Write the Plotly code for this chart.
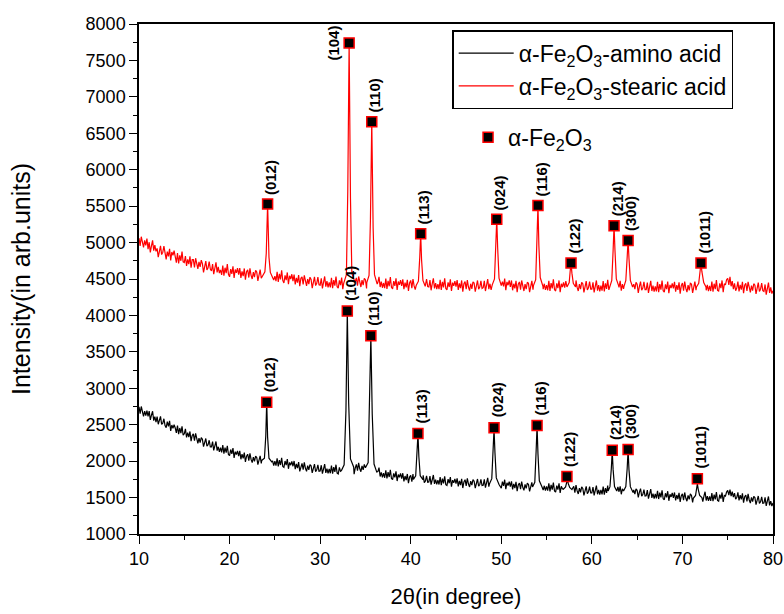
import plotly.graph_objects as go

# ---------------- data ----------------
start_2theta = 10.0
step_2theta = 0.125

# stearic-acid sample (red) background, 0.125 deg steps from 10 to 80 (8 per degree)
red_base = [
    5060, 4955, 5080, 4985, 4935, 5030, 4960, 5055,
    4910, 5005, 4865, 4955, 5030, 4890, 4965, 4880,
    4920, 4800, 4890, 4955, 4835, 4865, 4950, 4845,
    4770, 4875, 4810, 4915, 4755, 4870, 4825, 4890,
    4795, 4725, 4855, 4715, 4825, 4750, 4875, 4735,
    4725, 4815, 4680, 4770, 4705, 4810, 4655, 4765,
    4765, 4660, 4785, 4690, 4640, 4735, 4665, 4760,
    4710, 4590, 4680, 4745, 4625, 4655, 4740, 4635,
    4610, 4705, 4565, 4655, 4730, 4590, 4665, 4580,
    4625, 4555, 4685, 4545, 4655, 4580, 4705, 4565,
    4530, 4635, 4570, 4675, 4515, 4630, 4585, 4650,
    4560, 4650, 4515, 4605, 4540, 4645, 4490, 4600,
    4625, 4520, 4645, 4550, 4500, 4595, 4525, 4620,
    4595, 4475, 4565, 4630, 4510, 4540, 4625, 4520,
    4515, 4610, 4470, 4560, 4635, 4495, 4570, 4485,
    4540, 4470, 4600, 4460, 4570, 4495, 4620, 4480,
    4445, 4550, 4485, 4590, 4430, 4545, 4500, 4565,
    4470, 4560, 4425, 4515, 4450, 4555, 4400, 4510,
    4530, 4425, 4550, 4455, 4405, 4500, 4430, 4525,
    4495, 4375, 4465, 4530, 4410, 4440, 4525, 4420,
    4415, 4510, 4370, 4460, 4535, 4395, 4470, 4385,
    4455, 4385, 4515, 4375, 4485, 4410, 4535, 4395,
    4375, 4480, 4415, 4520, 4360, 4475, 4430, 4495,
    4425, 4515, 4380, 4470, 4405, 4510, 4355, 4465,
    4515, 4410, 4535, 4440, 4390, 4485, 4415, 4510,
    4490, 4370, 4460, 4525, 4405, 4435, 4520, 4415,
    4410, 4505, 4365, 4455, 4530, 4390, 4465, 4380,
    4445, 4375, 4505, 4365, 4475, 4400, 4525, 4385,
    4365, 4470, 4405, 4510, 4350, 4465, 4420, 4485,
    4405, 4495, 4360, 4450, 4385, 4490, 4335, 4445,
    4480, 4375, 4500, 4405, 4355, 4450, 4380, 4475,
    4470, 4350, 4440, 4505, 4385, 4415, 4500, 4395,
    4390, 4485, 4345, 4435, 4510, 4370, 4445, 4360,
    4430, 4360, 4490, 4350, 4460, 4385, 4510, 4370,
    4350, 4455, 4390, 4495, 4335, 4450, 4405, 4470,
    4395, 4485, 4350, 4440, 4375, 4480, 4325, 4435,
    4465, 4360, 4485, 4390, 4340, 4435, 4365, 4460,
    4445, 4325, 4415, 4480, 4360, 4390, 4475, 4370,
    4380, 4475, 4335, 4425, 4500, 4360, 4435, 4350,
    4435, 4365, 4495, 4355, 4465, 4390, 4515, 4375,
    4360, 4465, 4400, 4505, 4345, 4460, 4415, 4480,
    4390, 4480, 4345, 4435, 4370, 4475, 4320, 4430,
    4460, 4355, 4480, 4385, 4335, 4430, 4360, 4455,
    4440, 4320, 4410, 4475, 4355, 4385, 4470, 4365,
    4380, 4475, 4335, 4425, 4500, 4360, 4435, 4350,
    4415, 4345, 4475, 4335, 4445, 4370, 4495, 4355,
    4335, 4440, 4375, 4480, 4320, 4435, 4390, 4455,
    4380, 4470, 4335, 4425, 4360, 4465, 4310, 4420,
    4460, 4355, 4480, 4385, 4335, 4430, 4360, 4455,
    4435, 4315, 4405, 4470, 4350, 4380, 4465, 4360,
    4360, 4455, 4315, 4405, 4480, 4340, 4415, 4330,
    4410, 4340, 4470, 4330, 4440, 4365, 4490, 4350,
    4340, 4445, 4380, 4485, 4325, 4440, 4395, 4460,
    4385, 4475, 4340, 4430, 4365, 4470, 4315, 4425,
    4460, 4355, 4480, 4385, 4335, 4430, 4360, 4455,
    4430, 4310, 4400, 4465, 4345, 4375, 4460, 4355,
    4355, 4450, 4310, 4400, 4475, 4335, 4410, 4325,
    4400, 4330, 4460, 4320, 4430, 4355, 4480, 4340,
    4320, 4425, 4360, 4465, 4305, 4420, 4375, 4440,
    4370, 4460, 4325, 4415, 4350, 4455, 4300, 4410,
    4445, 4340, 4465, 4370, 4320, 4415, 4345, 4440,
    4430, 4310, 4400, 4465, 4345, 4375, 4460, 4355,
    4365, 4460, 4320, 4410, 4485, 4345, 4420, 4335,
    4405, 4335, 4465, 4325, 4435, 4360, 4485, 4345,
    4335, 4440, 4375, 4480, 4320, 4435, 4420, 4490,
    4510, 4420, 4530, 4400, 4470, 4360, 4440, 4340,
    4375, 4465, 4330, 4420, 4355, 4460, 4305, 4415,
    4440, 4335, 4460, 4365, 4315, 4410, 4340, 4435,
    4415, 4295, 4385, 4450, 4330, 4360, 4445, 4340,
    4330, 4425, 4285, 4375, 4450, 4310, 4385, 4300,
    4340,
]

# amino-acid sample (black) background
black_base = [
    2745, 2652, 2750, 2662, 2615, 2687, 2625, 2692,
    2615, 2687, 2565, 2632, 2685, 2557, 2610, 2537,
    2610, 2506, 2572, 2614, 2505, 2521, 2582, 2489,
    2460, 2541, 2477, 2554, 2415, 2496, 2452, 2499,
    2455, 2389, 2487, 2371, 2455, 2384, 2477, 2356,
    2375, 2442, 2325, 2392, 2330, 2407, 2275, 2352,
    2375, 2282, 2380, 2292, 2245, 2317, 2255, 2322,
    2300, 2199, 2267, 2311, 2205, 2224, 2287, 2196,
    2195, 2269, 2147, 2216, 2270, 2144, 2197, 2126,
    2185, 2119, 2219, 2103, 2187, 2117, 2211, 2091,
    2075, 2160, 2100, 2180, 2045, 2130, 2090, 2140,
    2070, 2141, 2026, 2097, 2037, 2118, 1989, 2069,
    2095, 2006, 2107, 2024, 1980, 2056, 1997, 2069,
    2050, 1952, 2025, 2072, 1970, 1992, 2060, 1972,
    1975, 2053, 1936, 2009, 2065, 1946, 2004, 1937,
    2000, 1937, 2040, 1927, 2015, 1947, 2045, 1927,
    1915, 2002, 1945, 2027, 1895, 1982, 1945, 1997,
    1930, 2002, 1890, 1962, 1905, 1987, 1860, 1942,
    1970, 1882, 1985, 1902, 1860, 1937, 1880, 1952,
    1935, 1838, 1911, 1959, 1857, 1881, 1949, 1862,
    1865, 1944, 1828, 1901, 1960, 1839, 1897, 1831,
    1895, 1834, 1939, 1828, 1917, 1852, 1951, 1836,
    1825, 1915, 1860, 1945, 1815, 1905, 1870, 1925,
    1875, 1950, 1840, 1915, 1860, 1945, 1820, 1905,
    1955, 1870, 1975, 1895, 1855, 1935, 1880, 1955,
    1930, 1831, 1902, 1949, 1845, 1866, 1932, 1844,
    1825, 1902, 1784, 1856, 1912, 1789, 1846, 1778,
    1835, 1772, 1875, 1762, 1850, 1782, 1880, 1762,
    1745, 1833, 1776, 1859, 1727, 1816, 1779, 1832,
    1760, 1834, 1722, 1796, 1740, 1824, 1697, 1781,
    1805, 1719, 1822, 1741, 1700, 1779, 1722, 1796,
    1780, 1684, 1757, 1806, 1705, 1729, 1797, 1711,
    1715, 1794, 1677, 1751, 1810, 1689, 1747, 1681,
    1740, 1679, 1782, 1671, 1760, 1694, 1792, 1676,
    1665, 1754, 1697, 1781, 1650, 1739, 1702, 1756,
    1690, 1764, 1654, 1728, 1672, 1757, 1631, 1716,
    1745, 1660, 1765, 1685, 1645, 1725, 1670, 1745,
    1725, 1630, 1705, 1755, 1655, 1680, 1750, 1665,
    1670, 1750, 1635, 1710, 1770, 1650, 1710, 1645,
    1715, 1653, 1756, 1644, 1732, 1666, 1764, 1647,
    1630, 1718, 1662, 1745, 1614, 1702, 1666, 1719,
    1650, 1724, 1613, 1687, 1631, 1715, 1589, 1673,
    1700, 1615, 1720, 1640, 1600, 1680, 1625, 1700,
    1680, 1585, 1660, 1710, 1610, 1635, 1705, 1620,
    1630, 1709, 1592, 1666, 1725, 1604, 1662, 1596,
    1655, 1594, 1697, 1586, 1675, 1609, 1707, 1591,
    1575, 1665, 1610, 1695, 1565, 1655, 1620, 1675,
    1610, 1684, 1572, 1646, 1590, 1674, 1547, 1631,
    1655, 1569, 1672, 1591, 1550, 1629, 1572, 1646,
    1625, 1530, 1605, 1655, 1555, 1580, 1650, 1565,
    1565, 1645, 1530, 1605, 1665, 1545, 1605, 1540,
    1605, 1545, 1650, 1540, 1630, 1565, 1665, 1550,
    1545, 1635, 1580, 1665, 1535, 1625, 1590, 1645,
    1580, 1655, 1545, 1620, 1565, 1650, 1525, 1610,
    1640, 1552, 1654, 1570, 1527, 1604, 1546, 1618,
    1600, 1502, 1575, 1622, 1520, 1542, 1610, 1522,
    1525, 1603, 1486, 1559, 1617, 1496, 1554, 1487,
    1550, 1488, 1592, 1480, 1568, 1502, 1600, 1484,
    1470, 1559, 1503, 1587, 1456, 1545, 1509, 1563,
    1495, 1570, 1460, 1535, 1480, 1565, 1440, 1525,
    1550, 1465, 1570, 1490, 1450, 1530, 1475, 1550,
    1530, 1435, 1510, 1560, 1460, 1485, 1555, 1470,
    1480, 1560, 1445, 1520, 1580, 1460, 1520, 1455,
    1515, 1455, 1560, 1450, 1540, 1475, 1575, 1460,
    1450, 1540, 1485, 1570, 1440, 1530, 1520, 1575,
    1600, 1535, 1610, 1520, 1580, 1505, 1560, 1480,
    1500, 1572, 1460, 1532, 1475, 1557, 1430, 1512,
    1535, 1447, 1550, 1467, 1425, 1502, 1445, 1517,
    1500, 1402, 1475, 1522, 1420, 1442, 1510, 1422,
    1425, 1502, 1385, 1457, 1515, 1392, 1450, 1382,
    1425,
]

# diffraction peak profiles (2theta, intensity)
red_peak_x = [
    [23.65, 23.9, 24.05, 24.2, 24.35, 24.5, 24.75],
    [32.6, 32.9, 33.05, 33.2, 33.35, 33.5, 33.8],
    [35.15, 35.4, 35.55, 35.7, 35.85, 36.0, 36.3],
    [40.6, 40.85, 41.0, 41.1, 41.2, 41.35, 41.6],
    [49.0, 49.25, 49.4, 49.5, 49.6, 49.75, 50.0],
    [53.55, 53.8, 53.95, 54.05, 54.15, 54.3, 54.6],
    [57.25, 57.5, 57.6, 57.7, 57.8, 57.95, 58.2],
    [62.0, 62.2, 62.35, 62.45, 62.55, 62.7, 62.95],
    [63.55, 63.75, 63.9, 64.0, 64.1, 64.25, 64.5],
    [71.55, 71.8, 71.95, 72.05, 72.15, 72.35, 72.6],
]
red_peak_y = [
    [4540, 4600, 4850, 5530, 4800, 4590, 4520],
    [4440, 4560, 5700, 7740, 5600, 4580, 4470],
    [4450, 4550, 5300, 6660, 5200, 4560, 4430],
    [4410, 4470, 4800, 5120, 4760, 4480, 4400],
    [4420, 4500, 4950, 5320, 4930, 4510, 4410],
    [4410, 4490, 5000, 5510, 4960, 4520, 4400],
    [4390, 4450, 4600, 4720, 4580, 4440, 4390],
    [4400, 4480, 4900, 5230, 4900, 4500, 4410],
    [4400, 4480, 4800, 5030, 4780, 4480, 4390],
    [4390, 4440, 4620, 4720, 4600, 4450, 4390],
]
black_peak_x = [
    [23.55, 23.85, 24.0, 24.1, 24.2, 24.35, 24.65],
    [32.35, 32.65, 32.85, 33.0, 33.15, 33.35, 33.7],
    [35.0, 35.3, 35.45, 35.6, 35.75, 35.95, 36.25],
    [40.3, 40.55, 40.7, 40.8, 40.9, 41.05, 41.35],
    [48.7, 48.95, 49.1, 49.2, 49.3, 49.45, 49.75],
    [53.45, 53.7, 53.85, 53.95, 54.05, 54.2, 54.5],
    [56.85, 57.1, 57.2, 57.3, 57.4, 57.55, 57.8],
    [61.8, 62.0, 62.15, 62.25, 62.35, 62.5, 62.75],
    [63.5, 63.75, 63.9, 64.0, 64.1, 64.25, 64.55],
    [71.2, 71.45, 71.55, 71.65, 71.75, 71.9, 72.15],
]
black_peak_y = [
    [2010, 2040, 2350, 2810, 2330, 2040, 1990],
    [1870, 1950, 2700, 4050, 2800, 2030, 1920],
    [1910, 1980, 2700, 3710, 2650, 1960, 1850],
    [1750, 1800, 2080, 2370, 2060, 1800, 1745],
    [1690, 1760, 2150, 2440, 2120, 1770, 1680],
    [1645, 1710, 2150, 2480, 2100, 1730, 1645],
    [1615, 1645, 1700, 1750, 1690, 1640, 1610],
    [1590, 1650, 1900, 2140, 1880, 1650, 1590],
    [1590, 1650, 1900, 2150, 1880, 1650, 1570],
    [1490, 1530, 1620, 1690, 1610, 1530, 1500],
]

# alpha-Fe2O3 reflection markers
hkl_labels = ["(012)", "(104)", "(110)", "(113)", "(024)", "(116)",
              "(122)", "(214)", "(300)", "(1011)"]
red_mark_x = [24.2, 33.2, 35.7, 41.1, 49.5, 54.05, 57.7, 62.45, 64.0, 72.05]
red_mark_y = [5530, 7740, 6660, 5120, 5320, 5510, 4720, 5230, 5030, 4720]
black_mark_x = [24.1, 33.0, 35.6, 40.8, 49.2, 53.95, 57.25, 62.25, 64.0, 71.65]
black_mark_y = [2810, 4060, 3720, 2380, 2460, 2490, 1790, 2150, 2160, 1760]

name_amino = "α-Fe<sub>2</sub>O<sub>3</sub>-amino acid"
name_stearic = "α-Fe<sub>2</sub>O<sub>3</sub>-stearic acid"
name_phase = "α-Fe<sub>2</sub>O<sub>3</sub>"


def build(base, peaks_x, peaks_y):
    grid = [start_2theta + step_2theta * i for i in range(len(base))]
    pts = list(zip(grid, base))
    for px, py in zip(peaks_x, peaks_y):
        lo, hi = px[0], px[-1]
        pts = [p for p in pts if not (lo <= p[0] <= hi)]
        pts += list(zip(px, py))
    pts.sort()
    return [p[0] for p in pts], [p[1] for p in pts]


bx, by = build(black_base, black_peak_x, black_peak_y)
rx, ry = build(red_base, red_peak_x, red_peak_y)

FONT = "Liberation Sans, Arial, sans-serif"

fig = go.Figure()
fig.add_trace(go.Scatter(x=bx, y=by, mode="lines", name=name_amino,
                         line=dict(color="black", width=1.2), legend="legend"))
fig.add_trace(go.Scatter(x=rx, y=ry, mode="lines", name=name_stearic,
                         line=dict(color="#ff0000", width=1.2), legend="legend"))
marker_style = dict(symbol="square", size=10, color="black",
                    line=dict(color="#ff0000", width=1.5))
fig.add_trace(go.Scatter(x=red_mark_x, y=red_mark_y, mode="markers",
                         marker=marker_style, name=name_phase, legend="legend2"))
fig.add_trace(go.Scatter(x=black_mark_x, y=black_mark_y, mode="markers",
                         marker=marker_style, name=name_phase, showlegend=False,
                         legend="legend2"))

lab_font = dict(family=FONT, size=15, color="black")
for i, lab in enumerate(hkl_labels):
    if lab == "(104)":
        fig.add_annotation(x=red_mark_x[i], y=red_mark_y[i], text="<b>%s</b>" % lab,
                           textangle=-90, showarrow=False, xanchor="right",
                           yanchor="middle", xshift=-5, font=lab_font)
    else:
        fig.add_annotation(x=red_mark_x[i], y=red_mark_y[i], text="<b>%s</b>" % lab,
                           textangle=-90, showarrow=False, xanchor="center",
                           yanchor="bottom", xshift=3, yshift=7, font=lab_font)
    fig.add_annotation(x=black_mark_x[i], y=black_mark_y[i], text="<b>%s</b>" % lab,
                       textangle=-90, showarrow=False, xanchor="center",
                       yanchor="bottom", xshift=3, yshift=8, font=lab_font)

axis_common = dict(showline=True, linecolor="black", linewidth=1.5, mirror=True,
                   ticks="outside", ticklen=8, tickwidth=1.3, tickcolor="black",
                   showgrid=False, zeroline=False, automargin=False,
                   tickfont=dict(family=FONT, size=18, color="black"))

fig.update_xaxes(range=[10, 80], dtick=10, tick0=10,
                 minor=dict(ticks="outside", ticklen=4, dtick=5, tickcolor="black",
                            tickwidth=1.3, showgrid=False),
                 title=dict(text="2θ(in degree)", font=dict(family=FONT, size=22),
                            standoff=20),
                 **axis_common)
fig.update_yaxes(range=[1000, 8000], dtick=500, tick0=1000,
                 minor=dict(ticks="outside", ticklen=4, dtick=250, tickcolor="black",
                            tickwidth=1.3, showgrid=False),
                 title=dict(text="Intensity(in arb.units)",
                            font=dict(family=FONT, size=25), standoff=48),
                 **axis_common)

fig.update_layout(
    width=784, height=614,
    margin=dict(l=139, r=11, t=24, b=80),
    plot_bgcolor="white", paper_bgcolor="white",
    font=dict(family=FONT, color="black"),
    legend=dict(x=0.494, y=0.988, xanchor="left", yanchor="top",
                bordercolor="black", borderwidth=1.5, bgcolor="white",
                itemwidth=55,
                font=dict(family=FONT, size=23), tracegroupgap=0),
    legend2=dict(x=0.519, y=0.82, xanchor="left", yanchor="top",
                 borderwidth=0, bgcolor="rgba(0,0,0,0)",
                 font=dict(family=FONT, size=23)),
)

fig.write_html("out.html")
